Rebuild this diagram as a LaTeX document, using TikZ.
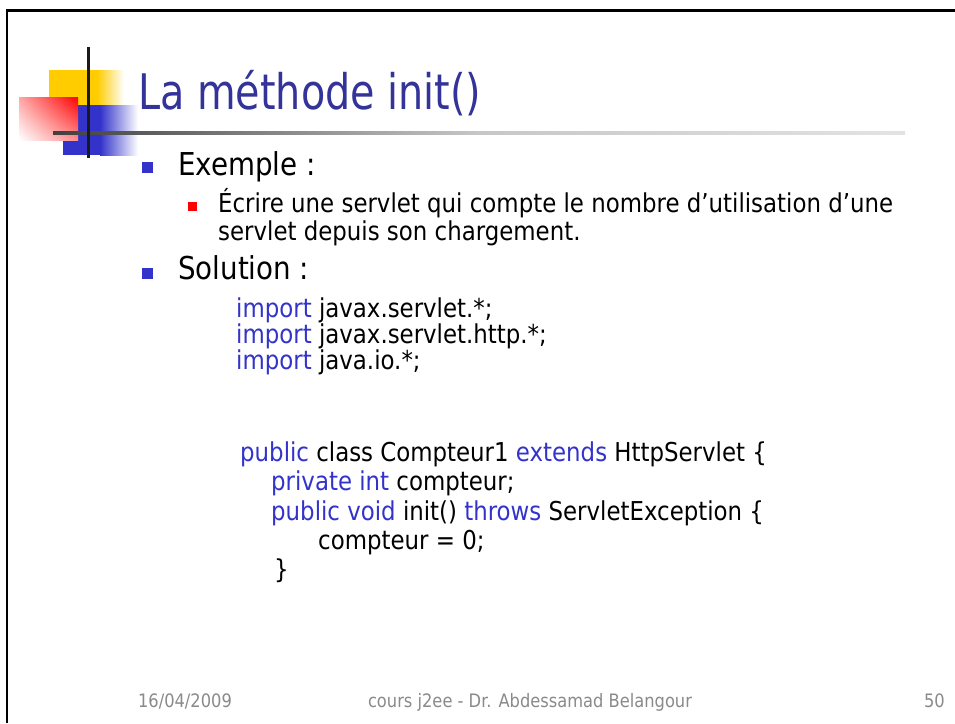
\documentclass[tikz,border=0pt]{standalone}
\usepackage{fontspec}
\usetikzlibrary{shadings}
\setmainfont{DejaVu Sans}[FakeStretch=0.88]
\newfontfamily\titlefont{DejaVu Sans}[FakeStretch=0.81]
\definecolor{titleblue}{HTML}{333399}
\definecolor{kw}{HTML}{3333CC}
\definecolor{bulblue}{HTML}{3333CC}
\definecolor{logoyellow}{HTML}{FFCC00}
\definecolor{footgray}{HTML}{8A8A8A}
\definecolor{linedark}{HTML}{1A1A1A}
\pgfdeclarehorizontalshading{hlfade}{100bp}{color(0bp)=(black); color(25bp)=(black!75); color(50bp)=(black!22); color(100bp)=(white)}
\begin{document}
\begin{tikzpicture}[x=1pt,y=-1pt,
  txt/.style={inner sep=0pt, anchor=base west},
  titletxt/.style={txt, font=\titlefont\fontsize{49}{49}\selectfont, text=titleblue},
  lvlone/.style={txt, font=\fontsize{31.5}{31.5}\selectfont},
  lvltwo/.style={txt, font=\fontsize{26}{28}\selectfont},
  codetxt/.style={txt, font=\fontsize{26}{26}\selectfont},
  foot/.style={inner sep=0pt, anchor=base, font=\fontsize{18.5}{18.5}\selectfont, text=footgray}]
\useasboundingbox (0,0) rectangle (955,723);
\fill[white] (0,0) rectangle (955,723);
% frame
\draw[line width=2.3pt] (7,723) -- (7,10.5) -- (955,10.5);
% logo
\fill[logoyellow] (49,70) rectangle (97.5,105);
\shade[left color=logoyellow, right color=white] (97,70) rectangle (124,105);
\fill[bulblue] (63,105) rectangle (100.5,155);
\shade[left color=bulblue, right color=white] (100,105) rectangle (138,155);
\shade[upper right=red, lower left=white, upper left=red!35!white, lower right=red!45!white] (19,97) rectangle (78,140);
\shade[shading=hlfade] (53,131.5) rectangle (905,134.5);
\fill[linedark] (86.5,47) rectangle (89.5,158);
% title
\node[titletxt] (title) at (138,109) {La méthode init()};
% bullets
\fill[bulblue] (142,162) rectangle (153,173);
\node[lvlone] (ex) at (178,175) {Exemple :};
\fill[red] (188,202) rectangle (197,211);
\node[lvltwo] (ecr1) at (218,212) {Écrire une servlet qui compte le nombre d’utilisation d’une};
\node[lvltwo] (ecr2) at (218,240) {servlet depuis son chargement.};
\fill[bulblue] (142,268) rectangle (153,279);
\node[lvlone] (sol) at (178,279) {Solution :};
% code
\node[codetxt] (c1) at (236,317) {\textcolor{kw}{import} javax.servlet.*;};
\node[codetxt] (c2) at (236,343) {\textcolor{kw}{import} javax.servlet.http.*;};
\node[codetxt] (c3) at (236,369) {\textcolor{kw}{import} java.io.*;};
\node[codetxt] (c4) at (240,461) {\textcolor{kw}{public} class Compteur1 \textcolor{kw}{extends} HttpServlet \{};
\node[codetxt] (c5) at (271,490) {\textcolor{kw}{private int} compteur;};
\node[codetxt] (c6) at (271,520) {\textcolor{kw}{public void} init() \textcolor{kw}{throws} ServletException \{};
\node[codetxt] (c7) at (318,549) {compteur = 0;};
\node[codetxt] (c8) at (274,578) {\}};
% footer
\node[foot] (date) at (185,707) {16/04/2009};
\node[foot] (course) at (530,707) {cours j2ee - Dr. Abdessamad Belangour};
\node[foot, anchor=base east] (page) at (945,707) {50};
\end{tikzpicture}
\end{document}
